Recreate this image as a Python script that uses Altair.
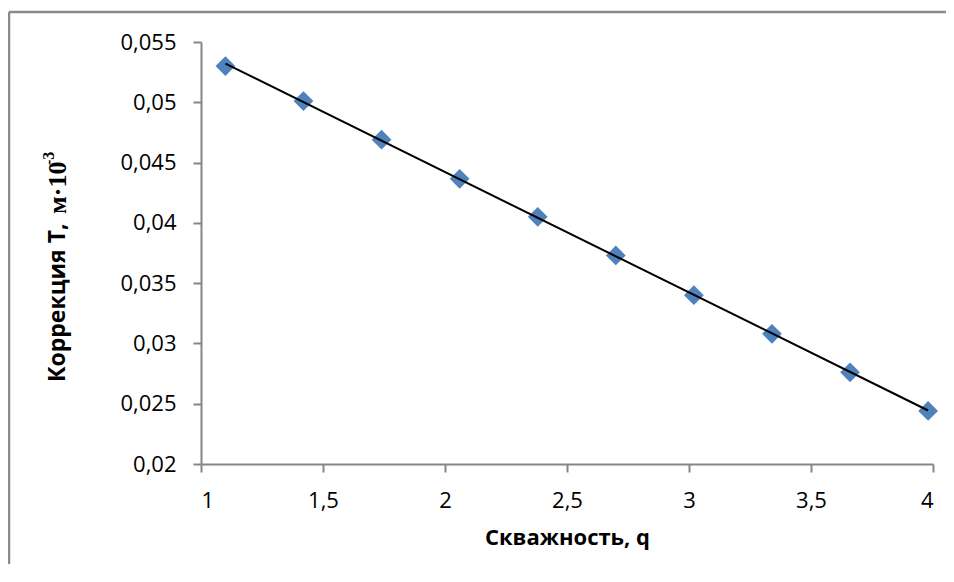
import altair as alt
import pandas as pd

# ---- data ----
q_values = [1.10, 1.42, 1.74, 2.06, 2.38, 2.70, 3.02, 3.34, 3.66, 3.98]
t_values = [0.0530, 0.0501, 0.0469, 0.04365, 0.0405, 0.0373, 0.0340, 0.0308, 0.0276, 0.0244]
x_ticks = [1, 1.5, 2, 2.5, 3, 3.5, 4]
y_ticks = [0.02, 0.025, 0.03, 0.035, 0.04, 0.045, 0.05, 0.055]
x_title = "Скважность, q"
y_title_main = "Коррекция Т,"
y_title_unit = "м·10"
y_title_exp = "-3"

df = pd.DataFrame({"q": q_values, "T": t_values})
one = pd.DataFrame({"k": [0]})

AX = "#868686"
FONT = "Open Sans"

x_scale = alt.Scale(domain=[1, 4], nice=False, zero=False)
y_scale = alt.Scale(domain=[0.02, 0.055], nice=False, zero=False)

x_axis = alt.Axis(
    values=x_ticks, format=".1~f", labelExpr="replace(datum.label, '.', ',')",
    title=x_title, grid=False,
    domainColor=AX, domainWidth=2, tickColor=AX, tickWidth=2, tickSize=8,
    labelPadding=18, labelFont=FONT, labelFontSize=22, labelColor="black",
    titleFont=FONT, titleFontSize=22, titleFontWeight="bold", titleColor="black",
    titlePadding=16,
)
y_axis = alt.Axis(
    values=y_ticks, format=".3~f", labelExpr="replace(datum.label, '.', ',')",
    title=None, grid=False,
    domainColor=AX, domainWidth=2, tickColor=AX, tickWidth=2, tickSize=8,
    labelPadding=17, labelFont=FONT, labelFontSize=22, labelColor="black",
)

points = alt.Chart(df).mark_point(
    shape="diamond", filled=True, size=390, color="#4F81BD", opacity=1
).encode(
    x=alt.X("q:Q", scale=x_scale, axis=x_axis),
    y=alt.Y("T:Q", scale=y_scale, axis=y_axis),
)

trend = alt.Chart(df).transform_regression("q", "T").mark_line(
    color="black", strokeWidth=2
).encode(x=alt.X("q:Q", scale=x_scale), y=alt.Y("T:Q", scale=y_scale))

# outer chart-area frame: only the top and left edges are in the picture
frame_left = alt.Chart(one).mark_rule(color="#8A8A8A", strokeWidth=2.5).encode(
    x=alt.value(-192), y=alt.value(-30), y2=alt.value(540)
)
frame_top = alt.Chart(one).mark_rule(color="#8A8A8A", strokeWidth=2.5).encode(
    x=alt.value(-192), x2=alt.value(760), y=alt.value(-30)
)

t_main = alt.Chart(one).mark_text(
    text=y_title_main, angle=270, align="left", baseline="middle",
    font=FONT, fontSize=23, fontWeight="bold", color="black"
).encode(x=alt.value(-143), y=alt.value(340))

t_unit = alt.Chart(one).mark_text(
    text=y_title_unit, angle=270, align="left", baseline="middle",
    font="Liberation Serif", fontSize=26, fontWeight="bold", color="black"
).encode(x=alt.value(-143), y=alt.value(172))

t_exp = alt.Chart(one).mark_text(
    text=y_title_exp, angle=270, align="left", baseline="middle",
    font="Liberation Serif", fontSize=16, fontWeight="bold", color="black",
    dx=49, dy=-9
).encode(x=alt.value(-143), y=alt.value(172))

chart = alt.layer(
    frame_left, frame_top, points, trend, t_main, t_unit, t_exp
).properties(
    width=732, height=422,
    autosize=alt.AutoSizeParams(type="none"),
    padding={"left": 193, "top": 34, "right": 13, "bottom": 100},
).configure_view(stroke=None)

chart.save("out.html", embed_options={"renderer": "svg", "actions": False})
